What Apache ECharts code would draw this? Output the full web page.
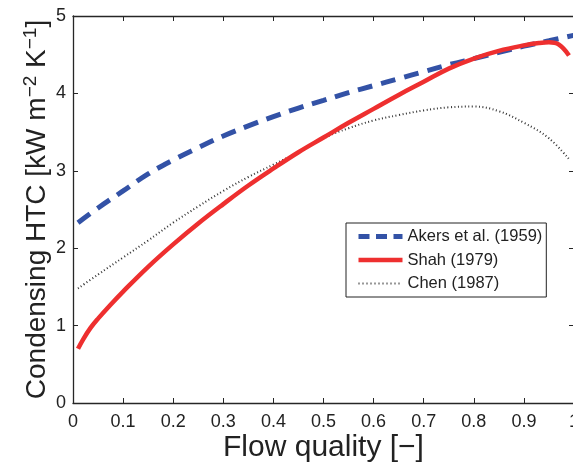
<!DOCTYPE html>
<html>
<head>
<meta charset="utf-8">
<script src="https://cdn.jsdelivr.net/npm/echarts@6/dist/echarts.min.js"></script>
<style>
  html, body { margin: 0; padding: 0; background: #fff; }
  #chart { width: 573px; height: 466px; }
</style>
</head>
<body>
<div id="chart"></div>
<script>
// Flow quality values (x) and condensing heat transfer coefficients (kW m^-2 K^-1)
const qualityAkers = [0.01, 0.05, 0.1, 0.15, 0.2, 0.25, 0.3, 0.35, 0.4, 0.45, 0.5, 0.55, 0.6, 0.65, 0.7, 0.75, 0.8, 0.85, 0.9, 0.95, 1.0];
const htcAkers     = [2.33, 2.52, 2.74, 2.96, 3.14, 3.30, 3.45, 3.58, 3.70, 3.81, 3.91, 4.01, 4.10, 4.19, 4.28, 4.37, 4.45, 4.53, 4.61, 4.68, 4.75];

const qualityShah = [0.01, 0.02, 0.035, 0.05, 0.075, 0.1, 0.15, 0.2, 0.25, 0.3, 0.35, 0.4, 0.45, 0.5, 0.55, 0.6, 0.65, 0.7, 0.75, 0.8, 0.85, 0.9, 0.93, 0.95, 0.97, 0.99];
const htcShah     = [0.70, 0.82, 0.97, 1.09, 1.27, 1.44, 1.76, 2.05, 2.32, 2.57, 2.81, 3.03, 3.24, 3.43, 3.62, 3.80, 3.98, 4.15, 4.32, 4.45, 4.55, 4.62, 4.65, 4.66, 4.63, 4.49];

const qualityChen = [0.01, 0.05, 0.1, 0.15, 0.2, 0.25, 0.3, 0.35, 0.4, 0.45, 0.5, 0.55, 0.6, 0.65, 0.7, 0.75, 0.8, 0.85, 0.9, 0.95, 0.99];
const htcChen     = [1.48, 1.66, 1.88, 2.10, 2.33, 2.54, 2.74, 2.92, 3.08, 3.24, 3.42, 3.55, 3.65, 3.72, 3.78, 3.82, 3.83, 3.77, 3.62, 3.42, 3.15];

const seriesNames = ['Akers et al. (1959)', 'Shah (1979)', 'Chen (1987)'];

const xTicks = { min: 0, max: 1, interval: 0.1 };
const yTicks = { min: 0, max: 5, interval: 1 };

const zip = (xs, ys) => xs.map((x, i) => [x, ys[i]]);

const FONT = "'Liberation Sans', Arial, Helvetica, sans-serif";
const AXIS_COLOR = '#262626';
const TEXT_COLOR = '#222';
const BLUE = '#3352a6';
const RED = '#ee2f2f';
const DARK = '#333';

const chart = echarts.init(document.getElementById('chart'), null, { renderer: 'canvas' });

const baseAxis = {
  axisLine: { show: true, onZero: false, lineStyle: { color: AXIS_COLOR, width: 1.3 } },
  axisTick: { show: true, inside: true, length: 5, lineStyle: { color: AXIS_COLOR, width: 1 } },
  splitLine: { show: false },
  minorTick: { show: false },
  nameMoveOverlap: false
};

chart.setOption({
  animation: false,
  backgroundColor: '#fff',
  grid: { left: 73, top: 16, width: 501, height: 387, containLabel: false, outerBoundsMode: 'none' },
  xAxis: [
    Object.assign({}, baseAxis, {
      type: 'value', position: 'bottom',
      min: xTicks.min, max: xTicks.max, interval: xTicks.interval,
      name: 'Flow quality [\u2212]',
      nameLocation: 'middle', nameGap: 30,
      nameTextStyle: { fontFamily: FONT, fontSize: 30, color: TEXT_COLOR },
      axisLabel: {
        fontFamily: FONT, fontSize: 18, color: TEXT_COLOR, margin: 10,
        formatter: v => String(Math.round(v * 10) / 10)
      }
    }),
    Object.assign({}, baseAxis, {
      type: 'value', position: 'top',
      min: xTicks.min, max: xTicks.max, interval: xTicks.interval,
      axisLabel: { show: false }
    })
  ],
  yAxis: [
    Object.assign({}, baseAxis, {
      type: 'value', position: 'left',
      min: yTicks.min, max: yTicks.max, interval: yTicks.interval,
      name: '{main|Condensing HTC [kW m}{sup|\u22122}{main| K}{sup|\u22121}{main|]}',
      nameLocation: 'middle', nameGap: 20, nameRotate: 90,
      nameTextStyle: {
        fontFamily: FONT, fontSize: 28, color: TEXT_COLOR,
        rich: {
          main: { fontFamily: FONT, fontSize: 28, color: TEXT_COLOR, lineHeight: 32 },
          sup: { fontFamily: FONT, fontSize: 19, color: TEXT_COLOR, verticalAlign: 'top', lineHeight: 20, padding: [0, 0, 30, 0] }
        }
      },
      axisLabel: { fontFamily: FONT, fontSize: 18, color: TEXT_COLOR, margin: 7 }
    }),
    Object.assign({}, baseAxis, {
      type: 'value', position: 'right',
      min: yTicks.min, max: yTicks.max, interval: yTicks.interval,
      axisLabel: { show: false }
    })
  ],
  legend: {
    orient: 'vertical',
    left: 346, top: 223,
    padding: [5, 4, 5, 10],
    itemWidth: 44, itemHeight: 14, itemGap: 6.5,
    backgroundColor: '#fff',
    borderColor: '#222', borderWidth: 1,
    itemStyle: { opacity: 0 },
    textStyle: { fontFamily: FONT, fontSize: 16.5, color: TEXT_COLOR },
    data: [
      { name: seriesNames[0], lineStyle: { color: BLUE, width: 5, type: [11, 6.5] } },
      { name: seriesNames[1], lineStyle: { color: RED, width: 4.5 } },
      { name: seriesNames[2], lineStyle: { color: DARK, width: 2, type: [1, 3] } }
    ]
  },
  series: [
    {
      name: seriesNames[0], type: 'line', smooth: 0.4, symbol: 'none',
      data: zip(qualityAkers, htcAkers), z: 3,
      lineStyle: { color: BLUE, width: 5, type: [15, 9] },
      itemStyle: { color: BLUE }
    },
    {
      name: seriesNames[1], type: 'line', smooth: 0.4, symbol: 'none',
      data: zip(qualityShah, htcShah), z: 4,
      lineStyle: { color: RED, width: 4.5 },
      itemStyle: { color: RED }
    },
    {
      name: seriesNames[2], type: 'line', smooth: 0.4, symbol: 'none',
      data: zip(qualityChen, htcChen), z: 2,
      lineStyle: { color: DARK, width: 2, type: [1, 2.5] },
      itemStyle: { color: DARK }
    }
  ]
});
</script>
</body>
</html>
